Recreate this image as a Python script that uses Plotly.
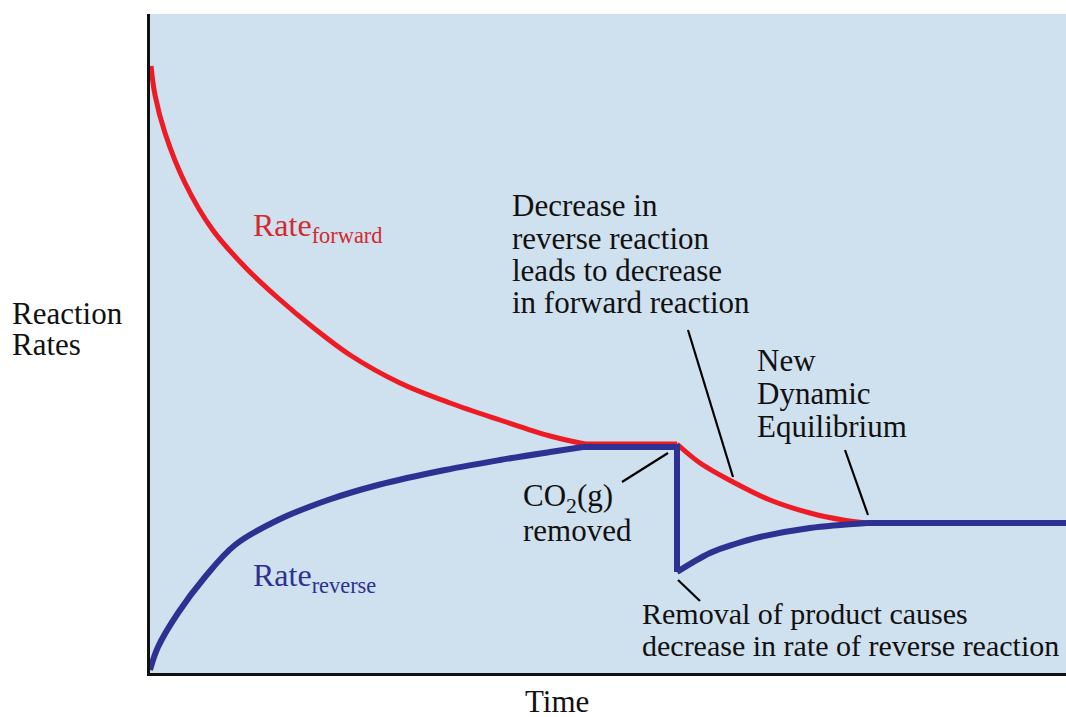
import plotly.graph_objects as go

# Time / rate values (arbitrary units)
# forward rate: initial decay, plateau, second decay after CO2 removal, new equilibrium
fwd_t = [1, 5, 15, 35, 62, 95, 128, 165, 200, 250, 300, 350, 400, 435,
         527, 550, 583, 620, 660, 693, 717, 916]
fwd_r = [607, 578, 540, 490, 444, 406, 375, 344, 318, 290, 270, 253, 237, 229,
         229, 210, 191, 173, 160, 153, 150, 150]

# reverse rate: initial rise, plateau, drop, recovery, new equilibrium
rev_t = [0, 8, 28, 55, 85, 128, 178, 228, 295, 350, 400, 433,
         527, 527, 560, 585, 610, 660, 717, 916]
rev_r = [3, 26, 60, 96, 128, 153, 173, 188, 203, 213, 221, 226,
         226, 101, 120, 129, 136, 145, 150, 150]

# leader lines for callouts (start, end)
lead_decrease_t = [538, 583]
lead_decrease_r = [343, 196]
lead_equil_t = [695, 718]
lead_equil_r = [223, 158]
lead_co2_t = [472, 518]
lead_co2_r = [191, 220]
lead_removal_t = [528, 550]
lead_removal_r = [93, 72]

RED = "#ed1c24"
BLUE = "#2e3192"
BG = "#cfe0ee"
FONT = "Liberation Serif"

fig = go.Figure()
# forward: smooth decay | plateau | smooth decay | flat
for a, b, shape in [(0, 14, "spline"), (13, 15, "linear"), (14, 21, "spline"), (20, 22, "linear")]:
    fig.add_trace(go.Scatter(x=fwd_t[a:b], y=fwd_r[a:b], mode="lines",
                             line=dict(color=RED, width=5, shape=shape, smoothing=1.0),
                             hoverinfo="skip", showlegend=False))
# reverse: smooth rise | plateau + drop | smooth recovery | flat
for a, b, shape in [(0, 12, "spline"), (11, 14, "linear"), (13, 19, "spline"), (18, 20, "linear")]:
    fig.add_trace(go.Scatter(x=rev_t[a:b], y=rev_r[a:b], mode="lines",
                             line=dict(color=BLUE, width=6, shape=shape, smoothing=1.0),
                             hoverinfo="skip", showlegend=False))
for lt, lr in [(lead_decrease_t, lead_decrease_r), (lead_equil_t, lead_equil_r),
               (lead_co2_t, lead_co2_r), (lead_removal_t, lead_removal_r)]:
    fig.add_trace(go.Scatter(x=lt, y=lr, mode="lines", line=dict(color="black", width=2.2),
                             hoverinfo="skip", showlegend=False))

anns = []
def add_lines(lines, x, ys, color="#111111", size=31, ref="x"):
    for txt, y in zip(lines, ys):
        anns.append(dict(x=x, y=y, xref=ref, yref=ref.replace("x", "y"), text=txt, showarrow=False,
                         xanchor="left", yanchor="middle",
                         font=dict(family=FONT, size=size, color=color)))

add_lines(["Decrease in", "reverse reaction", "leads to decrease", "in forward reaction"],
          360, [468, 435, 403, 371])
add_lines(["New", "Dynamic", "Equilibrium"], 605, [313, 280, 247])
add_lines(["CO<sub>2</sub>(g)", "removed"], 371, [175, 143])
add_lines(["Removal of product causes", "decrease in rate of reverse reaction"], 490, [60, 28], size=30)
add_lines(["Rate<sub>forward</sub>"], 101, [446], color="#d42a2f", size=32)
add_lines(["Rate<sub>reverse</sub>"], 101, [96], color=BLUE, size=32)
add_lines(["Reaction", "Rates"], -0.153, [0.546, 0.498], ref="paper")
anns.append(dict(x=0.444, y=-0.043, xref="paper", yref="paper", text="Time", showarrow=False,
                 xanchor="center", yanchor="middle",
                 font=dict(family=FONT, size=31, color="#111111")))

fig.update_layout(
    width=1066, height=717,
    margin=dict(l=150, r=0, t=14, b=44),
    paper_bgcolor="white", plot_bgcolor=BG,
    annotations=anns,
    xaxis=dict(range=[0, 916], showgrid=False, zeroline=False, showticklabels=False, ticks="",
               showline=True, linecolor="#111111", linewidth=3, fixedrange=True),
    yaxis=dict(range=[0, 659], showgrid=False, zeroline=False, showticklabels=False, ticks="",
               showline=True, linecolor="#111111", linewidth=3, fixedrange=True),
)
fig.write_html("out.html", config={"displayModeBar": False},
               post_script="document.body.style.margin='0';document.body.style.overflow='hidden';")
